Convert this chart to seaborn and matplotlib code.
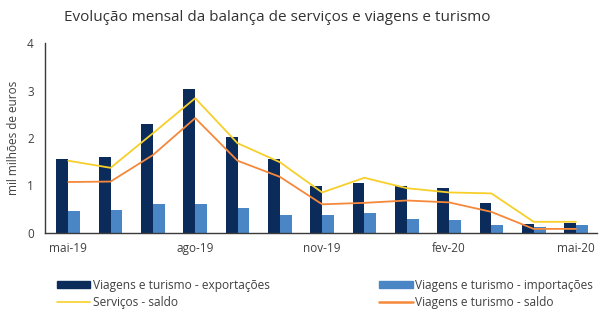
import numpy as np
import pandas as pd
import matplotlib
matplotlib.use("Agg")
import matplotlib.pyplot as plt
import seaborn as sns
from matplotlib.patches import Patch
from matplotlib.lines import Line2D

months = ["mai-19", "jun-19", "jul-19", "ago-19", "set-19", "out-19", "nov-19",
          "dez-19", "jan-20", "fev-20", "mar-20", "abr-20", "mai-20"]
exportacoes = [1.56, 1.59, 2.30, 3.03, 2.03, 1.56, 0.99, 1.06, 0.99, 0.95, 0.63, 0.18, 0.21]
importacoes = [0.46, 0.47, 0.61, 0.61, 0.52, 0.37, 0.37, 0.42, 0.29, 0.27, 0.16, 0.11, 0.16]
servicos_saldo = [1.52, 1.37, 2.10, 2.84, 1.89, 1.49, 0.85, 1.16, 0.94, 0.85, 0.83, 0.23, 0.23]
vt_saldo = [1.07, 1.08, 1.64, 2.42, 1.52, 1.18, 0.60, 0.63, 0.68, 0.64, 0.44, 0.08, 0.08]
shown_ticks = ["mai-19", "ago-19", "nov-19", "fev-20", "mai-20"]

lab_exp = "Viagens e turismo - exportações"
lab_imp = "Viagens e turismo - importações"
lab_serv = "Serviços - saldo"
lab_vt = "Viagens e turismo - saldo"

c_exp = "#0b2c5b"
c_imp = "#4a86c6"
c_serv = "#f7cf2a"
c_vt = "#f5883a"
txt = "#404040"

sns.set_theme(style="white")
plt.rcParams["font.family"] = ["Open Sans", "DejaVu Sans"]

bars = pd.DataFrame({
    "mes": months * 2,
    "valor": exportacoes + importacoes,
    "serie": [lab_exp] * len(months) + [lab_imp] * len(months),
})

fig = plt.figure(figsize=(6.05, 3.27), dpi=100)
ax = fig.add_axes([0.0744, 0.2884, 0.9126, 0.5792])

sns.barplot(data=bars, x="mes", y="valor", hue="serie", order=months,
            hue_order=[lab_exp, lab_imp], palette=[c_exp, c_imp],
            width=0.56, saturation=1, gap=0, linewidth=0, legend=False, ax=ax)

xpos = np.arange(len(months))
sns.lineplot(x=xpos, y=servicos_saldo, color=c_serv, linewidth=1.3, ax=ax)
sns.lineplot(x=xpos, y=vt_saldo, color=c_vt, linewidth=1.3, ax=ax)

ax.set_ylim(0, 4)
ax.set_xlim(-0.55, len(months) - 0.5)
ax.set_yticks([0, 1, 2, 3, 4])
ax.set_xticks([months.index(m) for m in shown_ticks])
ax.set_xticklabels(shown_ticks)
ax.set_xlabel("")
ax.set_ylabel("mil milhões de euros", fontsize=8.5, color=txt, labelpad=5)
ax.tick_params(axis="y", direction="in", length=2.5, width=0.8, colors=txt,
               labelsize=8.5, pad=8, labelcolor=txt)
ax.tick_params(axis="x", length=0, labelsize=8.5, labelcolor=txt, pad=7)
for s in ["top", "right"]:
    ax.spines[s].set_visible(False)
for s in ["left", "bottom"]:
    ax.spines[s].set_color("#3a3a3a")
    ax.spines[s].set_linewidth(1.0)

fig.text(0.106, 0.935, "Evolução mensal da balança de serviços e viagens e turismo",
         fontsize=11, color="#333333", ha="left", va="baseline")

handles = [
    Patch(facecolor=c_exp, edgecolor=c_exp, label=lab_exp),
    Line2D([0], [0], color=c_serv, linewidth=1.2, label=lab_serv),
    Patch(facecolor=c_imp, edgecolor=c_imp, label=lab_imp),
    Line2D([0], [0], color=c_vt, linewidth=1.8, label=lab_vt),
]
leg = fig.legend(handles=handles, ncol=2, loc="upper left",
                 bbox_to_anchor=(0.094, 0.148), frameon=False, fontsize=8.6,
                 handlelength=2.8, handleheight=0.6, handletextpad=0.2,
                 columnspacing=9.2, labelspacing=0.4, borderaxespad=0,
                 borderpad=0)
for t in leg.get_texts():
    t.set_color(txt)

fig.savefig("out.png", dpi=100)
